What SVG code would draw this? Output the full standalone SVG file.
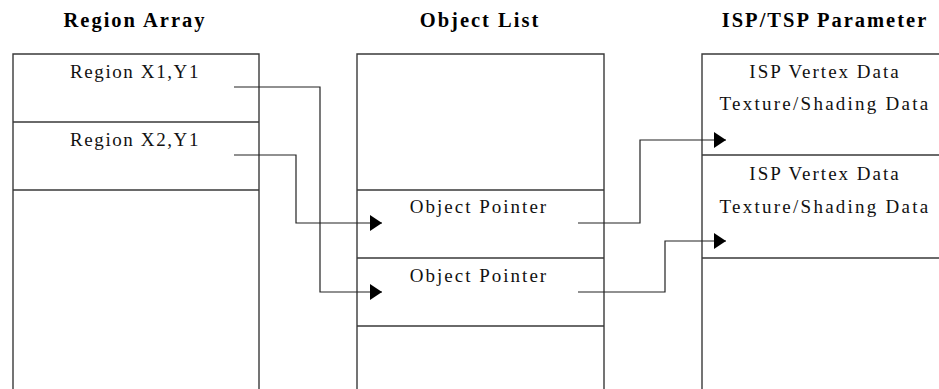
<svg xmlns="http://www.w3.org/2000/svg" width="939" height="389" viewBox="0 0 939 389">
<style>
.box{fill:none;stroke:#3a3a3a;stroke-width:1.4}
.title{font-family:"Liberation Serif","Times New Roman",serif;font-weight:bold;font-size:20.5px;letter-spacing:2px;text-anchor:middle;fill:#000}
.lbl{font-family:"Liberation Serif","Times New Roman",serif;font-size:19px;letter-spacing:2px;text-anchor:middle;fill:#111}
.wide{letter-spacing:2.25px}
.conn{fill:none;stroke:#222;stroke-width:1.2}
</style>
<defs>
<marker id="arr" markerUnits="userSpaceOnUse" markerWidth="12" markerHeight="16" refX="12" refY="8" orient="auto">
<path d="M0,0 L12,8 L0,16 z" fill="#000"/>
</marker>
</defs>
<rect width="939" height="389" fill="#fff"/>
<g id="region-array">
<text class="title" x="135" y="27">Region Array</text>
<path class="box" d="M13,389 V54 H259 V389 M13,122 H259 M13,190 H259"/>
<text class="lbl" x="135" y="78" style="letter-spacing:1.6px">Region X1,Y1</text>
<text class="lbl" x="135" y="146" style="letter-spacing:1.6px">Region X2,Y1</text>
</g>
<g id="object-list">
<text class="title" x="480" y="27">Object List</text>
<path class="box" d="M357,389 V54 H604 V389 M357,190 H604 M357,258 H604 M357,326 H604"/>
<text class="lbl" x="479" y="213">Object Pointer</text>
<text class="lbl" x="479" y="282">Object Pointer</text>
</g>
<g id="isp-tsp-parameter">
<text class="title" x="825" y="27">ISP/TSP Parameter</text>
<path class="box" d="M702,389 V54 H939 M702,155 H939 M702,258 H939"/>
<text class="lbl" x="825" y="78">ISP Vertex Data</text>
<text class="lbl wide" x="825" y="110">Texture/Shading Data</text>
<text class="lbl" x="825" y="180">ISP Vertex Data</text>
<text class="lbl wide" x="825" y="213">Texture/Shading Data</text>
</g>
<g id="connectors">
<path class="conn" d="M234,87 H320 V292 H382" marker-end="url(#arr)"/>
<path class="conn" d="M234,155 H296 V223 H382" marker-end="url(#arr)"/>
<path class="conn" d="M578,223 H640 V140 H726" marker-end="url(#arr)"/>
<path class="conn" d="M578,292 H665 V241 H726" marker-end="url(#arr)"/>
</g>
</svg>
